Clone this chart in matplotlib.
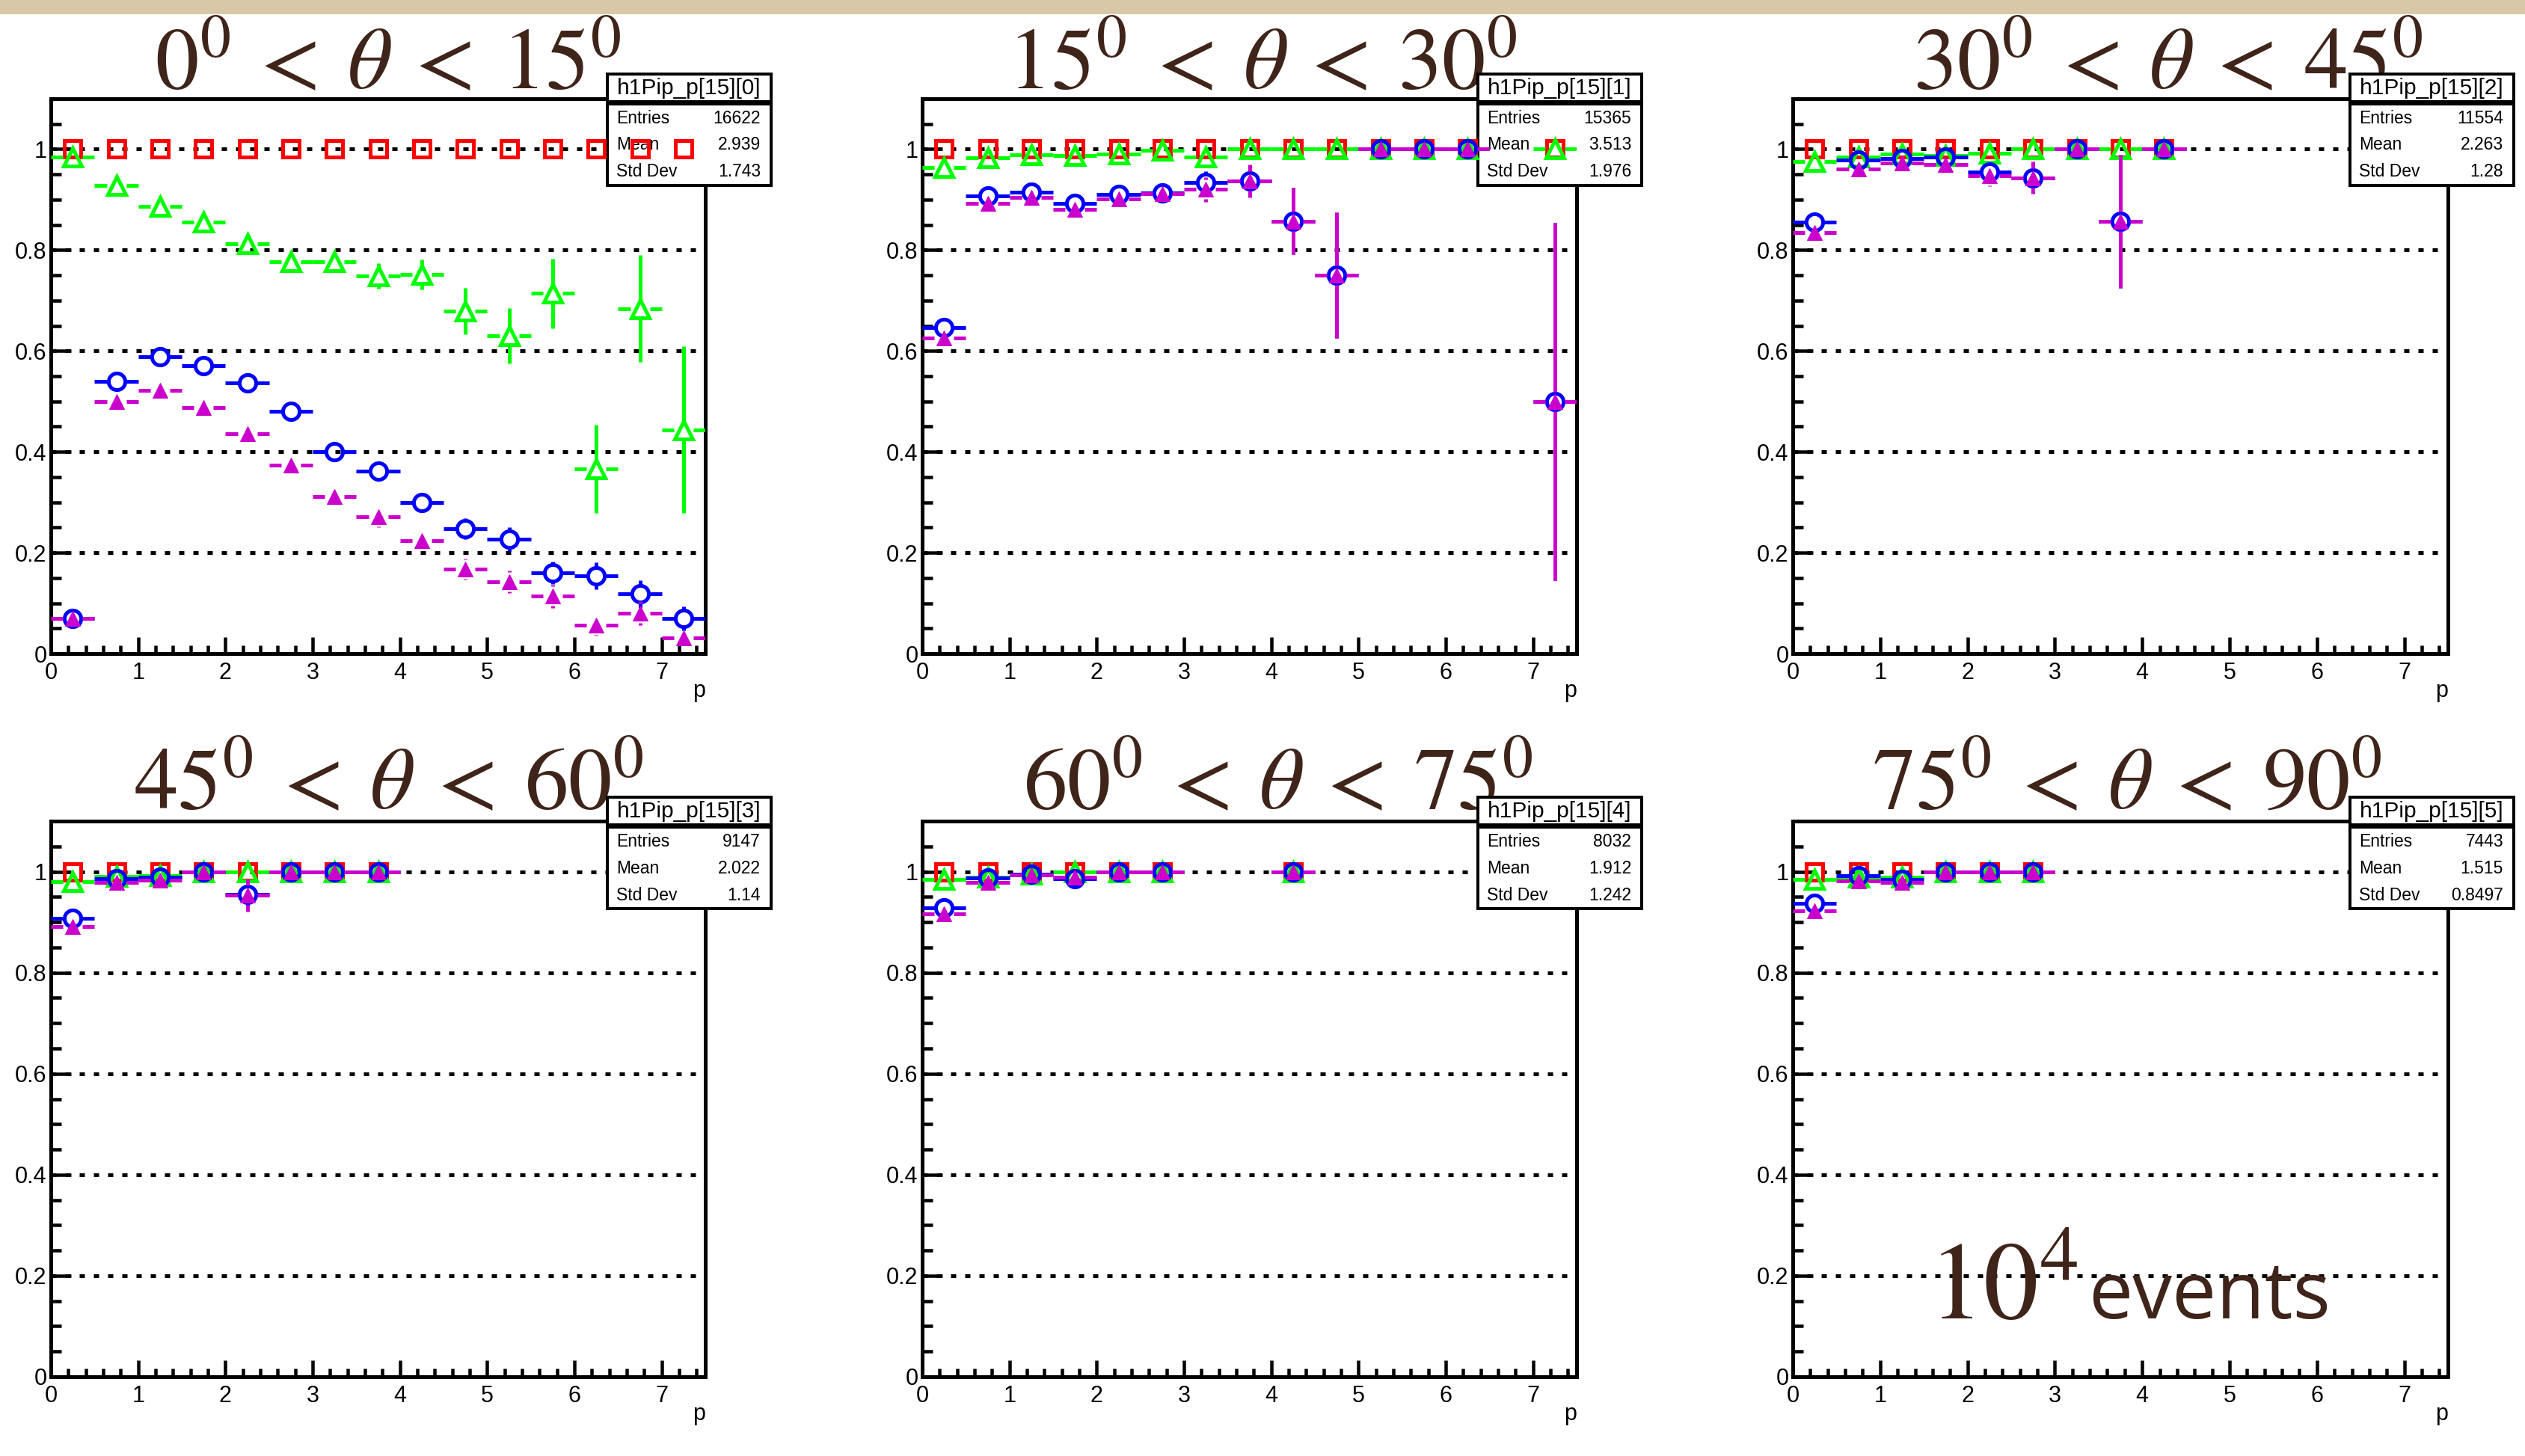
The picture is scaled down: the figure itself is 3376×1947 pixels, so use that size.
import numpy as np
import matplotlib
matplotlib.use('agg')
import matplotlib.pyplot as plt
from matplotlib.patches import Rectangle
from matplotlib.ticker import MultipleLocator, FuncFormatter

plt.rcParams['font.family'] = ['Liberation Sans', 'DejaVu Sans']
plt.rcParams['mathtext.fontset'] = 'stix'

# bin centres in p (bin width 0.5)
p_bins = [0.25, 0.75, 1.25, 1.75, 2.25, 2.75, 3.25, 3.75, 4.25, 4.75, 5.25, 5.75, 6.25, 6.75, 7.25]
nan = np.nan

theta_ranges = [(0, 15), (15, 30), (30, 45), (45, 60), (60, 75), (75, 90)]
hist_names = ['h1Pip_p[15][0]', 'h1Pip_p[15][1]', 'h1Pip_p[15][2]',
              'h1Pip_p[15][3]', 'h1Pip_p[15][4]', 'h1Pip_p[15][5]']
entries = ['16622', '15365', '11554', '9147', '8032', '7443']
means = ['2.939', '3.513', '2.263', '2.022', '1.912', '1.515']
stddevs = ['1.743', '1.976', '1.28', '1.14', '1.242', '0.8497']

# red open squares (no error bars)
red_vals = [
    [1, 1, 1, 1, 1, 1, 1, 1, 1, 1, 1, 1, 1, 1, 1],
    [1, 1, 1, 1, 1, 1, 1, 1, 1, 1, 1, 1, 1, nan, 1],
    [1, 1, 1, 1, 1, 1, 1, 1, 1],
    [1, 1, 1, 1, 1, 1, 1, 1],
    [1, 1, 1, 1, 1, 1, nan, nan, 1],
    [1, 1, 1, 1, 1, 1],
]
# green open triangles
green_vals = [
    [0.985, 0.928, 0.887, 0.855, 0.812, 0.777, 0.777, 0.749, 0.752, 0.679, 0.630, 0.714, 0.366, 0.684, 0.444],
    [0.963, 0.983, 0.989, 0.988, 0.990, 0.997, 0.984, 1.0, 1.0, 1.0, 1.0, 1.0, 1.0, nan, 1.0],
    [0.975, 0.984, 0.990, 0.987, 0.992, 1.0, 1.0, 1.0, 1.0],
    [0.980, 0.990, 0.992, 1.0, 1.0, 1.0, 1.0, 1.0],
    [0.984, 0.989, 0.995, 1.0, 1.0, 1.0, nan, nan, 1.0],
    [0.984, 0.989, 0.989, 1.0, 1.0, 1.0],
]
green_errs = [
    [0.003, 0.005, 0.006, 0.007, 0.008, 0.012, 0.018, 0.025, 0.030, 0.046, 0.055, 0.069, 0.088, 0.106, 0.165],
    [0.005, 0.003, 0.003, 0.003, 0.003, 0.002, 0.005, 0, 0, 0, 0, 0, 0, nan, 0],
    [0.005, 0.004, 0.003, 0.004, 0.004, 0, 0, 0, 0],
    [0.005, 0.004, 0.004, 0, 0, 0, 0, 0],
    [0.004, 0.004, 0.003, 0, 0, 0, nan, nan, 0],
    [0.004, 0.004, 0.004, 0, 0, 0],
]
# blue open circles
blue_vals = [
    [0.070, 0.540, 0.589, 0.571, 0.537, 0.481, 0.401, 0.362, 0.299, 0.248, 0.227, 0.160, 0.154, 0.118, 0.070],
    [0.646, 0.907, 0.914, 0.892, 0.910, 0.913, 0.934, 0.937, 0.857, 0.750, 1.0, 1.0, 1.0, nan, 0.5],
    [0.855, 0.979, 0.981, 0.984, 0.954, 0.943, 1.0, 0.857, 1.0],
    [0.908, 0.986, 0.989, 1.0, 0.955, 1.0, 1.0, 1.0],
    [0.928, 0.987, 0.995, 0.986, 1.0, 1.0, nan, nan, 1.0],
    [0.937, 0.992, 0.985, 1.0, 1.0, 1.0],
]
blue_errs = [
    [0.005, 0.008, 0.008, 0.008, 0.009, 0.010, 0.011, 0.012, 0.014, 0.021, 0.024, 0.022, 0.027, 0.027, 0.024],
    [0.010, 0.005, 0.005, 0.006, 0.006, 0.007, 0.022, 0.030, 0.066, 0.125, 0, 0, 0, nan, 0.354],
    [0.010, 0.005, 0.005, 0.006, 0.012, 0.025, 0, 0.132, 0],
    [0.010, 0.005, 0.005, 0, 0.025, 0, 0, 0],
    [0.008, 0.004, 0.003, 0.005, 0, 0, nan, nan, 0],
    [0.007, 0.003, 0.004, 0, 0, 0],
]
# magenta full triangles
mag_vals = [
    [0.070, 0.500, 0.522, 0.487, 0.436, 0.374, 0.311, 0.271, 0.224, 0.168, 0.142, 0.114, 0.056, 0.080, 0.031],
    [0.625, 0.893, 0.904, 0.881, 0.901, 0.912, 0.920, 0.937, 0.857, 0.750, 1.0, 1.0, 1.0, nan, 0.5],
    [0.835, 0.961, 0.972, 0.970, 0.947, 0.943, 1.0, 0.857, 1.0],
    [0.891, 0.979, 0.983, 1.0, 0.953, 1.0, 1.0, 1.0],
    [0.916, 0.979, 0.993, 0.989, 1.0, 1.0, nan, nan, 1.0],
    [0.923, 0.982, 0.978, 1.0, 1.0, 1.0],
]
mag_errs = [
    [0.005, 0.008, 0.008, 0.008, 0.009, 0.010, 0.012, 0.020, 0.019, 0.021, 0.022, 0.023, 0.020, 0.024, 0.016],
    [0.010, 0.006, 0.006, 0.007, 0.007, 0.008, 0.025, 0.032, 0.066, 0.125, 0, 0, 0, nan, 0.354],
    [0.011, 0.007, 0.006, 0.007, 0.020, 0.032, 0, 0.132, 0],
    [0.011, 0.006, 0.006, 0, 0.032, 0, 0, 0],
    [0.009, 0.005, 0.003, 0.004, 0, 0, nan, nan, 0],
    [0.008, 0.004, 0.005, 0, 0, 0],
]

W, H = 3376, 1947
DPI = 100
PT = 72.0 / DPI          # points per pixel
TXT = '#3f2419'
XMAX, YMAX = 7.5, 1.1

def fx(px):
    return px / W

def fy(py):
    return 1 - py / H

def pad15(v):
    v = list(v)
    return np.array(v + [nan] * (15 - len(v)), dtype=float)

fig = plt.figure(figsize=(W / DPI, H / DPI), dpi=DPI)
fig.patches.append(Rectangle((0, fy(19)), 1, 19 / H, transform=fig.transFigure,
                             facecolor='#d9c8a8', edgecolor='none', zorder=5))

cols = [(68, 943), (1233, 2108), (2397, 3273)]
rows = [(132, 874), (1098, 1841)]
title_x = [519, 1688, 2899, 520, 1709, 2844]
title_base = [118, 1081]
box_x = [812, 1976, 3142]
box_y = [99, 1066]

LW = 5 * PT
GAP = 13  # px gap around marker for error lines

for i in range(6):
    r, c = divmod(i, 3)
    l, rr = cols[c]
    t, b = rows[r]
    ax = fig.add_axes([fx(l), fy(b), (rr - l) / W, (b - t) / H])
    ax.set_xlim(0, XMAX)
    ax.set_ylim(0, YMAX)
    for s in ax.spines.values():
        s.set_linewidth(5 * PT)
    ax.xaxis.set_major_locator(MultipleLocator(1))
    ax.xaxis.set_minor_locator(MultipleLocator(0.2))
    ax.yaxis.set_major_locator(MultipleLocator(0.2))
    ax.yaxis.set_minor_locator(MultipleLocator(0.05))
    ax.yaxis.set_major_formatter(FuncFormatter(lambda v, pos: f'{v:g}'))
    ax.tick_params(which='both', direction='in', top=False, right=False,
                   width=4.5 * PT, labelsize=22)
    ax.tick_params(axis='x', which='major', length=22 * PT, pad=8)
    ax.tick_params(axis='x', which='minor', length=11 * PT)
    ax.tick_params(axis='y', which='major', length=27 * PT, pad=4)
    ax.tick_params(axis='y', which='minor', length=14 * PT)
    ax.yaxis.grid(True, color='black', lw=5 * PT, linestyle=(0, (1.4, 2.4)))
    ax.text(1.0, -50 / (b - t), 'p', transform=ax.transAxes, ha='right', va='center',
            fontsize=22)

    # title
    lo, hi = theta_ranges[i]
    ax.text(fx(title_x[i]), fy(title_base[r]),
            rf'${lo}^0 \:<\: \theta \:<\: {hi}^0$',
            transform=fig.transFigure, ha='center', va='baseline', fontsize=84,
            color=TXT, zorder=1, clip_on=False)

    # stats box
    bx, by = box_x[c], box_y[r]
    bw, hh, bh = 219, 37, 149
    ax.add_patch(Rectangle((fx(bx), fy(by + hh)), bw / W, hh / H, transform=fig.transFigure,
                           facecolor='white', edgecolor='black', lw=4 * PT,
                           zorder=3, clip_on=False))
    ax.add_patch(Rectangle((fx(bx), fy(by + bh)), bw / W, (bh - hh - 3) / H,
                           transform=fig.transFigure, facecolor='white', edgecolor='black',
                           lw=4 * PT, zorder=3, clip_on=False))
    ax.text(fx(bx + bw / 2), fy(by + 19), hist_names[i], transform=fig.transFigure,
            ha='center', va='center', fontsize=21.5, zorder=3.2, clip_on=False)
    for k, (lab, val) in enumerate([('Entries', entries[i]), ('Mean', means[i]),
                                    ('Std Dev', stddevs[i])]):
        yy = by + 59 + 36 * k
        ax.text(fx(bx + 12), fy(yy), lab, transform=fig.transFigure, ha='left',
                va='center', fontsize=16.5, zorder=3.2, clip_on=False)
        ax.text(fx(bx + bw - 14), fy(yy), val, transform=fig.transFigure, ha='right',
                va='center', fontsize=16.5, zorder=3.2, clip_on=False)

    gx = GAP * XMAX / (rr - l)
    gy = GAP * YMAX / (b - t)
    x = np.array(p_bins)

    # red squares: markers only
    yr = pad15(red_vals[i])
    ok = ~np.isnan(yr)
    ax.plot(x[ok], yr[ok], ls='none', marker='s', ms=16,
            mfc='none', mec='#ff0000', mew=5 * PT, zorder=4)

    series = [
        (green_vals[i], green_errs[i], '#00ff00', '^', 17.5, False, 5),
        (blue_vals[i], blue_errs[i], '#0000ff', 'o', 16, False, 6),
        (mag_vals[i], mag_errs[i], '#cc00cc', '^', 14, True, 7),
    ]
    for vals, errs, col, mk, ms, filled, z in series:
        y = pad15(vals)
        e = pad15(errs)
        ok = ~np.isnan(y)
        ax.hlines(y[ok], x[ok] - 0.25, x[ok] - gx, colors=col, lw=LW, zorder=z,
                  capstyle='butt')
        ax.hlines(y[ok], x[ok] + gx, x[ok] + 0.25, colors=col, lw=LW, zorder=z,
                  capstyle='butt')
        big = ok & (np.nan_to_num(e) > gy)
        ax.vlines(x[big], y[big] + gy, y[big] + e[big], colors=col, lw=LW, zorder=z,
                  capstyle='butt')
        ax.vlines(x[big], y[big] - e[big], y[big] - gy, colors=col, lw=LW, zorder=z,
                  capstyle='butt')
        ax.plot(x[ok], y[ok], ls='none', marker=mk, ms=ms,
                mfc=col if filled else 'none', mec=col, mew=(1 if filled else 5) * PT,
                zorder=z + 0.5)

# annotation in last panel
fig.text(fx(2578), fy(1763), r'$10^4$', ha='left', va='baseline', fontsize=106,
         color=TXT)
fig.text(fx(2954), fy(1763), 'events', ha='center', va='baseline', fontsize=76,
         color=TXT, family=['Open Sans', 'DejaVu Sans'])

fig.savefig('out.png', dpi=DPI)
